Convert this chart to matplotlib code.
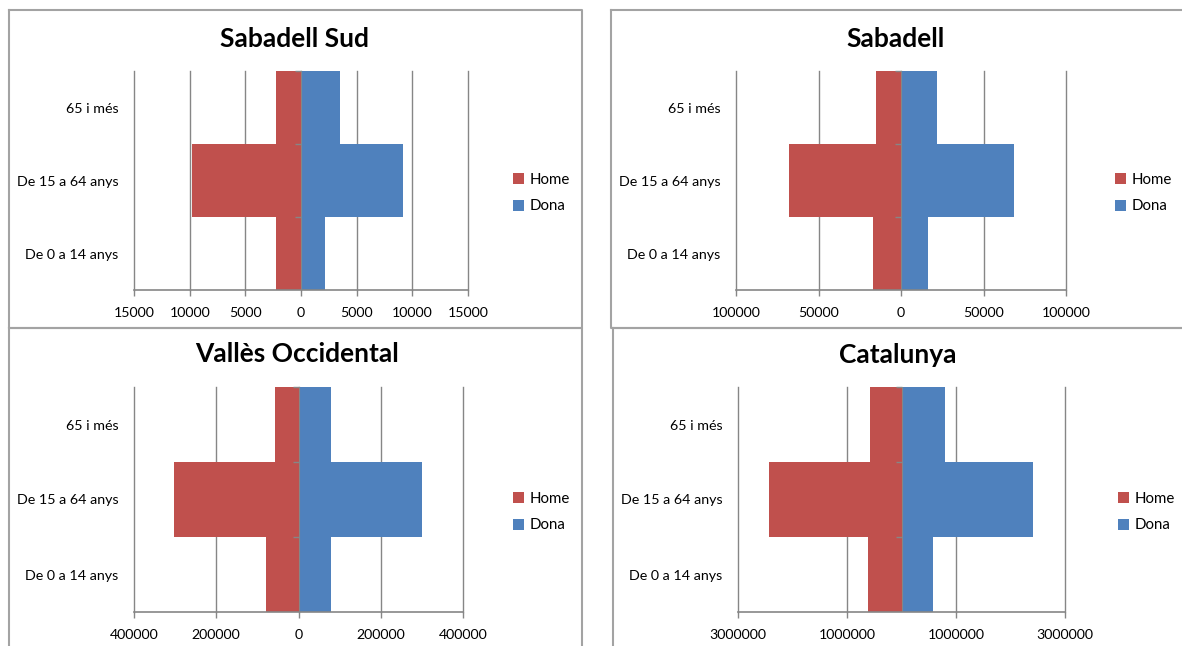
import matplotlib.pyplot as plt
from matplotlib.lines import Line2D
from matplotlib.ticker import FuncFormatter

plt.rcParams['font.family'] = ['Lato', 'DejaVu Sans']

# age groups, bottom to top
groups = ["De 0 a 14 anys", "De 15 a 64 anys", "65 i més"]

# population by sex (Home drawn to the left)
sud_home = [2250, 9800, 2250]
sud_dona = [2190, 9200, 3510]
sab_home = [17000, 67800, 15350]
sab_dona = [16400, 68400, 22000]
val_home = [80200, 303600, 56700]
val_dona = [79400, 299700, 79400]
cat_home = [618000, 2437000, 569000]
cat_dona = [569000, 2411000, 790000]

# x axis ticks of each pyramid
sud_ticks = [-15000, -10000, -5000, 0, 5000, 10000, 15000]
sab_ticks = [-100000, -50000, 0, 50000, 100000]
val_ticks = [-400000, -200000, 0, 200000, 400000]
cat_ticks = [-3000000, -1000000, 1000000, 3000000]

red = '#C0504D'
blue = '#4F81BD'
grid = '#868686'
frame = '#a3a3a3'

W, H = 1182, 646
fig = plt.figure(figsize=(W / 100, H / 100), dpi=100)


def px_rect(x0, y0, x1, y1):
    return [x0 / W, 1 - y1 / H, (x1 - x0) / W, (y1 - y0) / H]


def frame_box(x0, y0, x1, y1):
    xs = [x0, x1, x1, x0, x0]
    ys = [y0, y0, y1, y1, y0]
    fig.add_artist(Line2D([x / W for x in xs], [1 - y / H for y in ys],
                          color=frame, lw=1.5, transform=fig.transFigure))


def pyramid(title, home, dona, ticks, area, title_xy, leg_xy):
    ax = fig.add_axes(px_rect(*area))
    pos = list(range(len(groups)))
    ax.barh(pos, [-v for v in home], height=1.0, color=red, label='Home', zorder=2)
    ax.barh(pos, dona, height=1.0, color=blue, label='Dona', zorder=2)

    ax.set_xlim(ticks[0], ticks[-1])
    ax.set_ylim(-0.5, len(groups) - 0.5)
    ax.set_xticks(ticks)
    ax.xaxis.set_major_formatter(FuncFormatter(lambda v, p: '%d' % abs(v)))
    ax.set_yticks(pos)
    ax.set_yticklabels(groups)

    # vertical grid, drawn under the bars
    for t in ticks:
        ax.axvline(t, color=grid, lw=1, zorder=1, clip_on=False)

    # category axis at zero with its little ticks
    ax.axvline(0, color=grid, lw=0.8, zorder=3)
    ax.plot([0] * len(groups), [p + 0.5 for p in pos], ls='none',
            marker=[(-1, 0), (0, 0)], ms=8, mec=grid, mew=1, zorder=3, clip_on=False)

    for s in ['top', 'right', 'left']:
        ax.spines[s].set_visible(False)
    ax.spines['bottom'].set_color(grid)
    ax.spines['bottom'].set_linewidth(1.2)
    ax.tick_params(axis='x', length=4, color=grid, width=1, pad=8, labelsize=10.2)
    ax.tick_params(axis='y', length=0, pad=11, labelsize=10.3)

    fig.text(title_xy[0] / W, 1 - title_xy[1] / H, title, ha='center', va='center',
             fontsize=19, fontweight='bold')
    ax.legend(loc='center left', bbox_to_anchor=(leg_xy[0] / W, 1 - leg_xy[1] / H),
              bbox_transform=fig.transFigure, frameon=False, fontsize=10.8,
              borderpad=0, borderaxespad=0, handlelength=0.75, handleheight=0.75,
              handletextpad=0.35, labelspacing=0.85)
    return ax


# chart frames
frame_box(8.5, 10, 582, 328)
frame_box(611, 10, 1195, 328)
frame_box(8.5, 328, 582, 660)
frame_box(613, 328, 1195, 660)

pyramid("Sabadell Sud", sud_home, sud_dona, sud_ticks,
        (134, 71, 468, 290), (295, 39), (513, 193))
pyramid("Sabadell", sab_home, sab_dona, sab_ticks,
        (736, 71, 1066, 290), (896, 39), (1115, 193))
pyramid("Vallès Occidental", val_home, val_dona, val_ticks,
        (134, 387, 463, 612), (297, 354), (513, 512))
pyramid("Catalunya", cat_home, cat_dona, cat_ticks,
        (738, 387, 1065, 612), (898, 355), (1118, 512))

fig.savefig('out.png', dpi=100)
